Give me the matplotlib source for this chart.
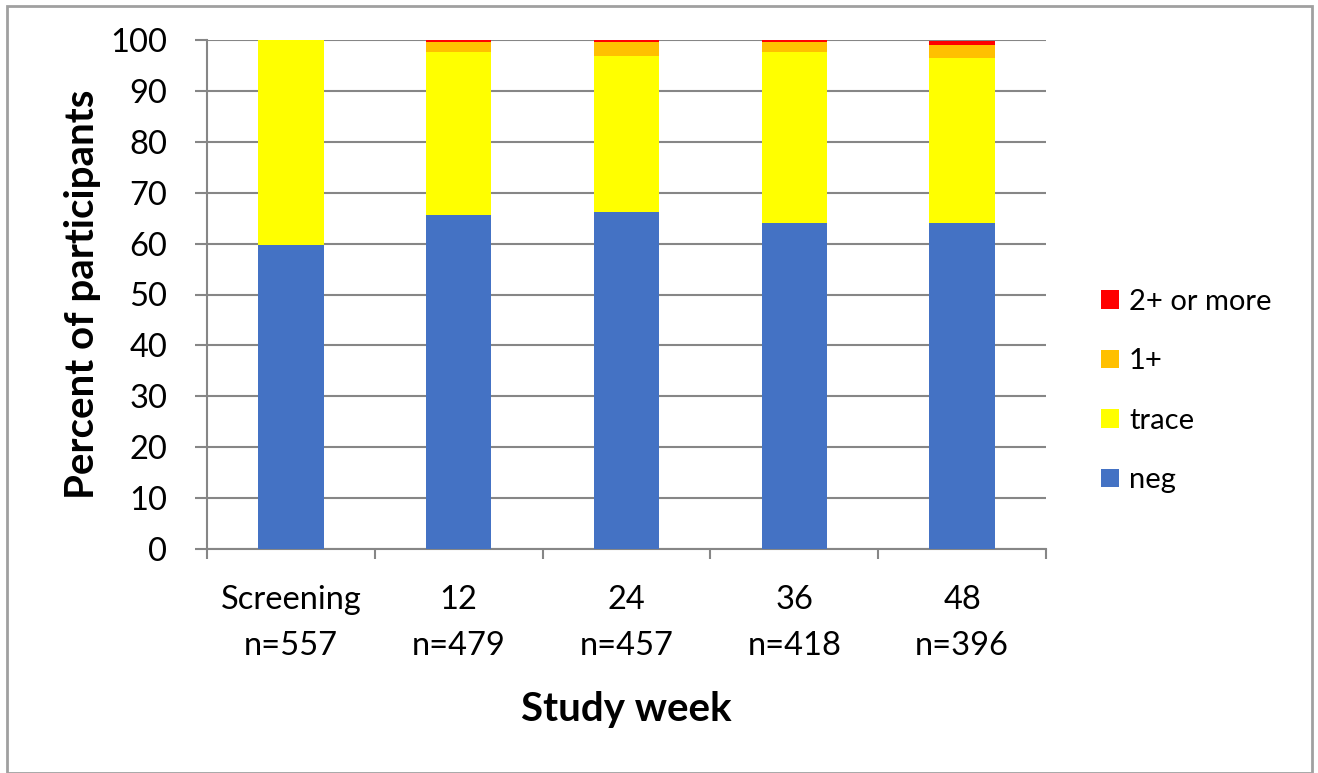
import matplotlib
matplotlib.use("Agg")
import matplotlib.pyplot as plt
from matplotlib.patches import Rectangle, Patch
import numpy as np

plt.rcParams['font.family'] = ['Lato', 'DejaVu Sans']

categories = ["Screening\nn=557", "12\nn=479", "24\nn=457", "36\nn=418", "48\nn=396"]
series_names = ["neg", "trace", "1+", "2+ or more"]
neg = [59.7, 65.6, 66.2, 64.0, 64.0]
trace = [40.3, 32.0, 30.7, 33.6, 32.4]
one_plus = [0.0, 2.0, 2.7, 2.0, 2.6]
two_plus = [0.0, 0.4, 0.4, 0.4, 0.8]
colors = ["#4472C4", "#FFFF00", "#FFC000", "#FF0000"]

fig = plt.figure(figsize=(13.18, 7.73), dpi=100)
ax = fig.add_axes([207 / 1318, 1 - 549 / 773, (1046 - 207) / 1318, (549 - 40) / 773])

x = np.arange(len(categories))
bottom = np.zeros(len(categories))
handles = []
for name, vals, col in zip(series_names, [neg, trace, one_plus, two_plus], colors):
    ax.bar(x, vals, width=0.39, bottom=bottom, color=col, zorder=3, linewidth=0)
    bottom += np.array(vals)
    handles.append(Patch(facecolor=col, edgecolor='none'))

ax.set_xlim(-0.5, len(categories) - 0.5)
ax.set_ylim(0, 100)
ax.set_yticks(np.arange(0, 101, 10))
ax.yaxis.grid(True, color="#868686", linewidth=1.5, zorder=0)
for s in ["top", "right"]:
    ax.spines[s].set_visible(False)
for s in ["left", "bottom"]:
    ax.spines[s].set_color("#868686")
    ax.spines[s].set_linewidth(1.5)

ax.set_xticks(x)
ax.set_xticklabels(categories, fontsize=23.5, linespacing=1.65)
ax.set_xticks(np.arange(-0.5, len(categories), 1.0), minor=True)
ax.tick_params(axis='x', which='major', length=0, pad=26)
ax.tick_params(axis='x', which='minor', length=7, width=1.5, color="#868686")
ax.tick_params(axis='y', length=8.6, width=1.5, color="#868686", labelsize=23.5, pad=20)

ax.set_ylabel("Percent of participants", fontsize=29, fontweight='bold', labelpad=7)
ax.set_xlabel("Study week", fontsize=29, fontweight='bold', labelpad=22)

leg = fig.legend(handles[::-1], series_names[::-1], loc='center left',
                 bbox_to_anchor=(1075 / 1318, 1 - 391 / 773), frameon=False,
                 fontsize=21, handlelength=0.6, handleheight=0.6,
                 handletextpad=0.35, labelspacing=1.15)

fig.patches.append(Rectangle((7 / 1318, 0.0), (1312 - 7) / 1318, 1 - 6 / 773,
                             transform=fig.transFigure, fill=False,
                             edgecolor="#A0A0A0", linewidth=2))

fig.savefig("out.png", dpi=100)
